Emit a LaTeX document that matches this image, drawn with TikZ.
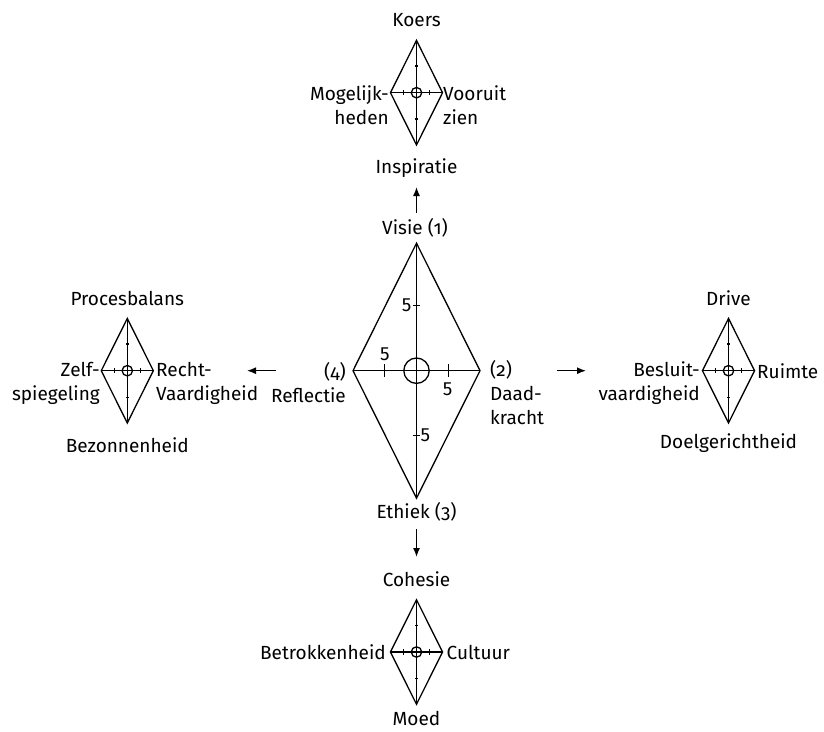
\documentclass[tikz,border=0pt]{standalone}
\usepackage{fontspec}
\setmainfont{Fira Sans}[Numbers=OldStyle]
\newfontfamily\liningfont{Fira Sans}[Numbers=Lining]
\usetikzlibrary{arrows.meta}

\tikzset{
  axisline/.style={line width=1.3pt, line join=miter},
  lbl/.style={inner sep=0pt, font=\fontsize{19}{24}\selectfont},
  ticklbl/.style={inner sep=0pt, font=\liningfont\fontsize{19}{22}\selectfont},
  flow/.style={line width=1.3pt, -{Latex[length=9pt,width=7pt]}},
  % one profile diamond: outline, both axes, centre ring and the four half-scale ticks
  radar/.pic={
    \coordinate (-c) at (0,0);
    \coordinate (-n) at (0,-127.5);
    \coordinate (-s) at (0,127.5);
    \coordinate (-w) at (-63.5,0);
    \coordinate (-e) at (63.5,0);
    \draw[axisline] (-n) -- (-e) -- (-s) -- (-w) -- cycle;
    \draw[axisline] (-w) -- (-e);
    \draw[axisline] (-n) -- (-s);
    \draw[axisline] (-c) circle[radius=12.7];
    \draw[axisline] (-32,-6.3) -- (-32,6.3);
    \draw[axisline] (32,-6.3) -- (32,6.3);
    \draw[axisline] (-3.7,-65) -- (3.7,-65);
    \draw[axisline] (-3.7,64.5) -- (3.7,64.5);
  }
}

\begin{document}
\begin{tikzpicture}[x=1pt,y=-1pt]
\useasboundingbox (0,0) rectangle (824,731);

% central profile
\pic (M) at (416.5,370.7) {radar};
\node[ticklbl] (t1) at (406.7,305.7) {5};
\node[ticklbl] (t2) at (425.5,435) {5};
\node[ticklbl] (t3) at (385,354) {5};
\node[ticklbl] (t4) at (447.7,389.3) {5};

\node[lbl] (visie) at (415,228) {Visie (1)};
\node[lbl, align=right, anchor=east] (refl) at (346,382.5) {(4)\\Reflectie};
\node[lbl, align=left, anchor=west] (daad) at (490,393) {(2)\\Daad-\\kracht};
\node[lbl] (ethiek) at (416.5,511.7) {Ethiek (3)};

% the four sub-profiles
\pic[scale=0.41] (T) at (416.5,92.7) {radar};
\pic[scale=0.41] (L) at (127.3,370.7) {radar};
\pic[scale=0.41] (R) at (728.5,370.7) {radar};
\pic[scale=0.41] (B) at (416.5,652) {radar};

% labels, top
\node[lbl] (koers) at (416.5,20) {Koers};
\node[lbl, align=right, anchor=east] (mog) at (389,105.5) {Mogelijk-\\heden};
\node[lbl, align=left, anchor=west] (voor) at (443,105.5) {Vooruit\\zien};
\node[lbl] (insp) at (416.5,168) {Inspiratie};

% labels, left
\node[lbl] (proc) at (127.3,298.3) {Procesbalans};
\node[lbl] (bezon) at (127.3,445) {Bezonnenheid};
\node[lbl, align=right, anchor=east] (zelf) at (100,383) {Zelf-\\spiegeling};
\node[lbl, align=left, anchor=west] (recht) at (156,383) {Recht-\\Vaardigheid};

% labels, right
\node[lbl] (drive) at (728.5,298.3) {Drive};
\node[lbl] (doel) at (728.5,443) {Doelgerichtheid};
\node[lbl, align=right, anchor=east] (besl) at (700,383) {Besluit-\\vaardigheid};
\node[lbl, anchor=west] (ruimte) at (757,370.7) {Ruimte};

% labels, bottom
\node[lbl] (coh) at (416.5,579.3) {Cohesie};
\node[lbl] (moed) at (416.5,718.5) {Moed};
\node[lbl, anchor=east] (betr) at (386,652) {Betrokkenheid};
\node[lbl, anchor=west] (cult) at (446.5,652) {Cultuur};

% arrows from the main profile to the sub-profiles
\coordinate (upA) at (416.5,213);
\coordinate (upB) at (416.5,187);
\coordinate (lfA) at (276,370.7);
\coordinate (lfB) at (247,370.7);
\coordinate (rtA) at (557,370.7);
\coordinate (rtB) at (586,370.7);
\coordinate (dnA) at (416.5,529);
\coordinate (dnB) at (416.5,557);
\draw[flow] (upA) -- (upB);
\draw[flow] (lfA) -- (lfB);
\draw[flow] (rtA) -- (rtB);
\draw[flow] (dnA) -- (dnB);
\end{tikzpicture}
\end{document}
